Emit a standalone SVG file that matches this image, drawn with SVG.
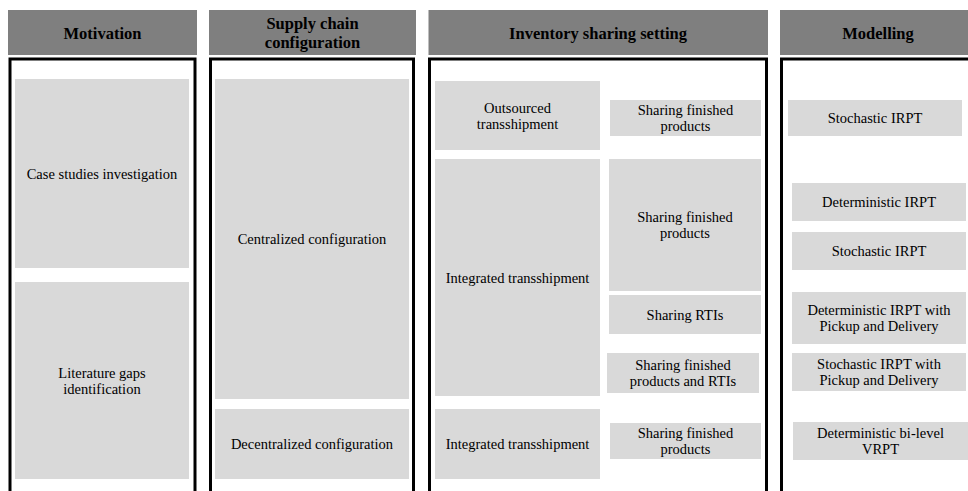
<svg xmlns="http://www.w3.org/2000/svg" width="968" height="491" viewBox="0 0 968 491">
<style>
.hdr{fill:#7f7f7f}
.frame{fill:none;stroke:#000;stroke-width:3}
.box{fill:#d9d9d9}
text{font-family:"Liberation Serif","Times New Roman",serif;fill:#000;text-anchor:middle}
.h{font-size:16.5px;font-weight:bold}
.t{font-size:14.5px}
</style>
<rect width="968" height="491" fill="#fff"/>
<g id="col-motivation">
<rect class="hdr" x="8" y="10" width="189" height="45"/>
<text class="h" x="102.5" y="38.5">Motivation</text>
<rect class="frame" x="10" y="59" width="185" height="450"/>
</g>
<g id="col-supply">
<rect class="hdr" x="209" y="10" width="207" height="45"/>
<text class="h" x="312.5" y="28.5">Supply chain</text>
<text class="h" x="312.5" y="47.5">configuration</text>
<rect class="frame" x="210.5" y="59" width="203" height="450"/>
</g>
<g id="col-inventory">
<rect class="hdr" x="428.5" y="10" width="339.5" height="45"/>
<text class="h" x="598" y="38.5">Inventory sharing setting</text>
<rect class="frame" x="429.5" y="59" width="337" height="450"/>
</g>
<g id="col-modelling">
<rect class="hdr" x="780" y="10" width="196" height="45"/>
<text class="h" x="878" y="38.5">Modelling</text>
<rect class="frame" x="781.5" y="59" width="250" height="450"/>
</g>
<g id="n-case"><rect class="box" x="15" y="79" width="174" height="189"/><text class="t" x="102" y="178.5">Case studies investigation</text></g>
<g id="n-lit"><rect class="box" x="15" y="282" width="174" height="197"/><text class="t" x="102" y="377.5">Literature gaps</text><text class="t" x="102" y="393.5">identification</text></g>
<g id="n-central"><rect class="box" x="215" y="79" width="194" height="320"/><text class="t" x="312" y="244">Centralized configuration</text></g>
<g id="n-decentral"><rect class="box" x="215" y="409" width="194" height="70"/><text class="t" x="312" y="449">Decentralized configuration</text></g>
<g id="n-outsourced"><rect class="box" x="435" y="81" width="165" height="69"/><text class="t" x="517.5" y="112.5">Outsourced</text><text class="t" x="517.5" y="128.5">transshipment</text></g>
<g id="n-sfp1"><rect class="box" x="610" y="100" width="151" height="36"/><text class="t" x="685.5" y="115">Sharing finished</text><text class="t" x="685.5" y="131">products</text></g>
<g id="n-integrated1"><rect class="box" x="435" y="159" width="165" height="237"/><text class="t" x="517.5" y="282.5">Integrated transshipment</text></g>
<g id="n-sfp2"><rect class="box" x="609" y="159" width="152" height="132"/><text class="t" x="685" y="222">Sharing finished</text><text class="t" x="685" y="238">products</text></g>
<g id="n-rtis"><rect class="box" x="609" y="295" width="152" height="39"/><text class="t" x="685" y="319.5">Sharing RTIs</text></g>
<g id="n-sfprtis"><rect class="box" x="607" y="353" width="152" height="40"/><text class="t" x="683" y="370">Sharing finished</text><text class="t" x="683" y="386">products and RTIs</text></g>
<g id="n-integrated2"><rect class="box" x="435" y="409" width="165" height="70"/><text class="t" x="517.5" y="449">Integrated transshipment</text></g>
<g id="n-sfp3"><rect class="box" x="610" y="423" width="151" height="36"/><text class="t" x="685.5" y="438">Sharing finished</text><text class="t" x="685.5" y="454">products</text></g>
<g id="n-stoch1"><rect class="box" x="788" y="100" width="174" height="36"/><text class="t" x="875" y="123">Stochastic IRPT</text></g>
<g id="n-det"><rect class="box" x="792" y="183" width="174" height="38"/><text class="t" x="879" y="207">Deterministic IRPT</text></g>
<g id="n-stoch2"><rect class="box" x="792" y="232" width="174" height="38"/><text class="t" x="879" y="256">Stochastic IRPT</text></g>
<g id="n-detpd"><rect class="box" x="792" y="292" width="174" height="52"/><text class="t" x="879" y="315">Deterministic IRPT with</text><text class="t" x="879" y="331">Pickup and Delivery</text></g>
<g id="n-stochpd"><rect class="box" x="792" y="353" width="174" height="38"/><text class="t" x="879" y="369">Stochastic IRPT with</text><text class="t" x="879" y="385">Pickup and Delivery</text></g>
<g id="n-bilevel"><rect class="box" x="793" y="422" width="175" height="38"/><text class="t" x="880.5" y="438">Deterministic bi-level</text><text class="t" x="880.5" y="454">VRPT</text></g>
<g id="connectors"></g>
</svg>
